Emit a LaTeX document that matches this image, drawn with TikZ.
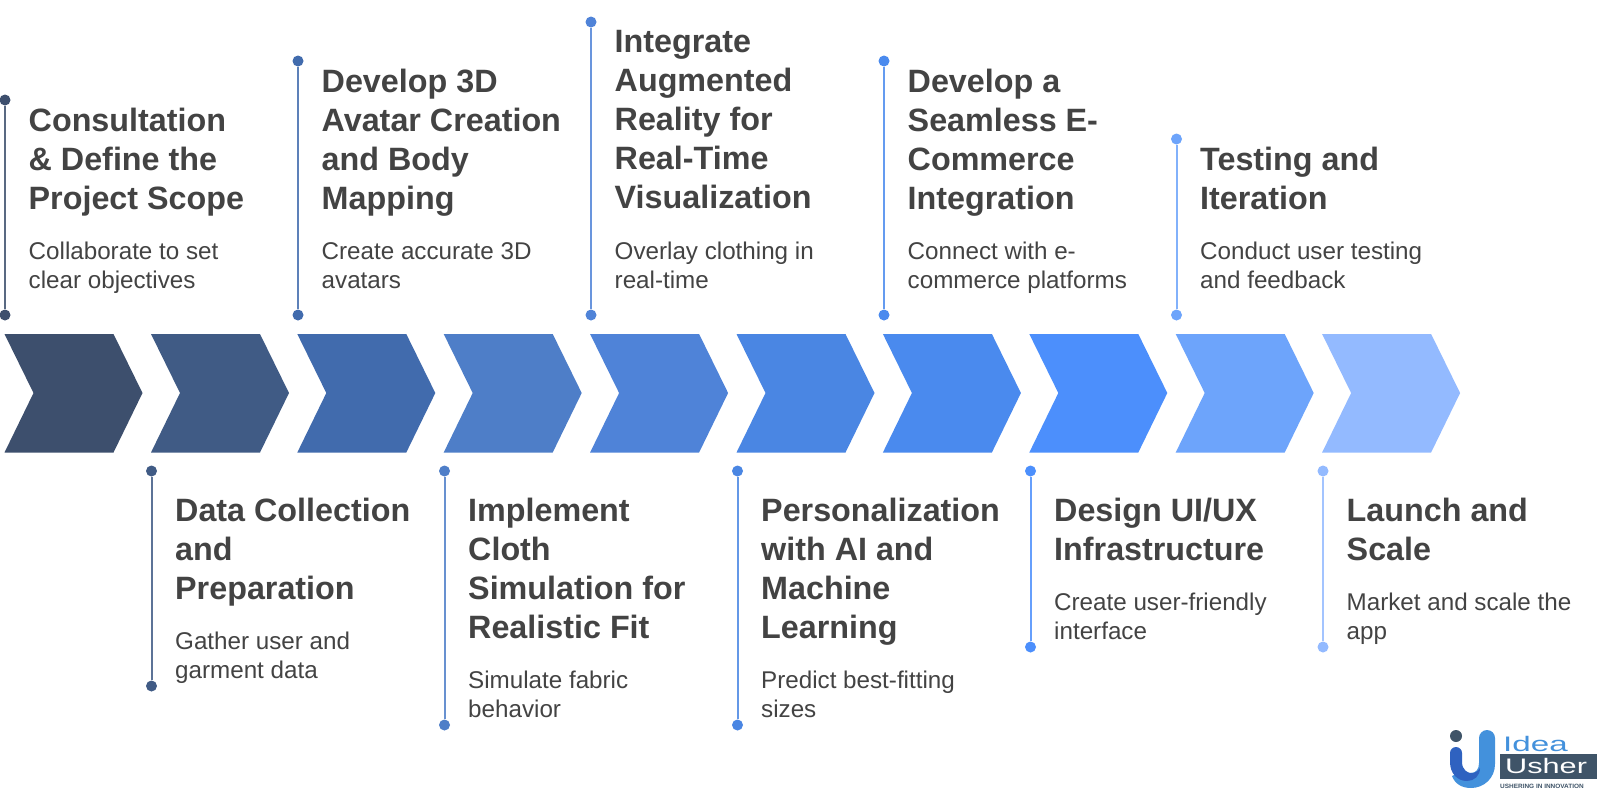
\documentclass[tikz,border=0pt]{standalone}
\usepackage{fontspec}
\setmainfont{Liberation Sans}
\definecolor{ink}{HTML}{434343}
\definecolor{ca}{HTML}{3D4F6D}
\definecolor{cb}{HTML}{405B85}
\definecolor{cc}{HTML}{416BAD}
\definecolor{cd}{HTML}{4E7EC8}
\definecolor{ce}{HTML}{4F83D8}
\definecolor{cf}{HTML}{4A86E3}
\definecolor{cg}{HTML}{4A8AEE}
\definecolor{ch}{HTML}{4C8FFC}
\definecolor{ci}{HTML}{6DA4FB}
\definecolor{cj}{HTML}{93BAFF}
\definecolor{logodark}{HTML}{3F5468}
\definecolor{logoblue}{HTML}{4391DC}
\definecolor{logodeep}{HTML}{2F62C0}
\tikzset{
  x=1pt,y=-1pt,
  titletext/.style={anchor=north west,inner sep=0pt,align=left,text=ink,
    font=\fontsize{32.3}{39}\selectfont\bfseries,
    execute at begin node={\rule{0pt}{28pt}}},
  desctext/.style={anchor=north west,inner sep=0pt,align=left,text=ink,
    font=\fontsize{24.2}{29}\selectfont,
    execute at begin node={\rule{0pt}{20pt}}},
  enddot/.style={circle,inner sep=0pt,minimum size=11pt},
  stem/.style={line width=2pt,opacity=.85},
}
% #1 name, #2 x of the stem, #3 colour, #4 top dot y, #5 bottom dot y,
% #6 first title baseline, #7 title, #8 desc baseline, #9 desc
\newcommand{\stepitem}[9]{%
  \node[enddot,fill=#3] (#1a) at (#2,#4) {};
  \node[enddot,fill=#3] (#1b) at (#2,#5) {};
  \draw[stem,draw=#3] (#1a) -- (#1b);
  \node[titletext] (#1t) at (#2+23.5,#6-22) {#7};
  \node[desctext] (#1d) at (#2+23.5,#8-17) {#9};
}
\newcommand{\chev}[3]{%
  \fill[#3] (#2,334) -- (#2+109,334) -- (#2+138,393) -- (#2+109,452.5) -- (#2,452.5) -- (#2+29,393) -- cycle;
}
\begin{document}
\begin{tikzpicture}
\useasboundingbox (0,0) rectangle (1600,788);
\fill[white] (0,0) rectangle (1600,788);
\chev{a}{4.5}{ca}
\chev{b}{151}{cb}
\chev{c}{297.3}{cc}
\chev{d}{443.7}{cd}
\chev{e}{590.1}{ce}
\chev{f}{736.5}{cf}
\chev{g}{882.9}{cg}
\chev{h}{1029.3}{ch}
\chev{i}{1175.7}{ci}
\chev{j}{1322.1}{cj}
\stepitem{s1}{5}{ca}{100}{315}{130}{Consultation\\\& Define the\\Project Scope}{259}{Collaborate to set\\clear objectives}
\stepitem{s2}{151.5}{cb}{471}{686}{520}{Data Collection\\and\\Preparation}{649}{Gather user and\\garment data}
\stepitem{s3}{298}{cc}{61}{315}{91}{Develop 3D\\Avatar Creation\\and Body\\Mapping}{259}{Create accurate 3D\\avatars}
\stepitem{s4}{444.5}{cd}{471}{725}{520}{Implement\\Cloth\\Simulation for\\Realistic Fit}{688}{Simulate fabric\\behavior}
\stepitem{s5}{591}{ce}{22}{315}{52}{Integrate\\Augmented\\Reality for\\Real-Time\\Visualization}{259}{Overlay clothing in\\real-time}
\stepitem{s6}{737.5}{cf}{471}{725}{520}{Personalization\\with AI and\\Machine\\Learning}{688}{Predict best-fitting\\sizes}
\stepitem{s7}{884}{cg}{61}{315}{91}{Develop a\\Seamless E-\\Commerce\\Integration}{259}{Connect with e-\\commerce platforms}
\stepitem{s8}{1030.5}{ch}{471}{647}{520}{Design UI/UX\\Infrastructure}{610}{Create user-friendly\\interface}
\stepitem{s9}{1176.5}{ci}{139}{315}{169}{Testing and\\Iteration}{259}{Conduct user testing\\and feedback}
\stepitem{s10}{1323}{cj}{471}{647}{520}{Launch and\\Scale}{610}{Market and scale the\\app}
% logo
\fill[logodark] (1456,736) circle (6);
\fill[logoblue] (1479,738) arc[start angle=180,end angle=360,radius=8] -- (1495,764)
  .. controls (1495,778) and (1484,788) .. (1471,788)
  .. controls (1462,788) and (1455,784) .. (1452,776)
  .. controls (1458,772) and (1466,773) .. (1471,773)
  .. controls (1476,773) and (1479,769) .. (1479,763) -- cycle;
\fill[logodeep] (1450,753) arc[start angle=180,end angle=360,radius=6] -- (1462,762)
  .. controls (1462,770) and (1468,774) .. (1473,773)
  .. controls (1477,772) and (1479,770) .. (1480,768)
  .. controls (1480,776) and (1474,781) .. (1467,781)
  .. controls (1457,781) and (1450,773) .. (1450,762) -- cycle;
\node[inner sep=0pt,anchor=base west,text=logoblue,font=\fontsize{21}{21}\selectfont] (logoa) at (1503,751) {\scalebox{1.58}[1]{Idea}};
\node[fill=logodark,minimum width=97pt,minimum height=25pt,inner sep=0pt,anchor=north west] (logob) at (1500,754) {};
\node[inner sep=0pt,anchor=base west,text=white,font=\fontsize{21}{21}\selectfont] (logou) at (1505,773) {\scalebox{1.46}[1]{Usher}};
\node[inner sep=0pt,anchor=base west,text=logodark,font=\fontsize{6.2}{6.2}\selectfont\bfseries] (logoc) at (1500,788) {\scalebox{1.04}[1]{USHERING IN INNOVATION}};
\end{tikzpicture}
\end{document}
